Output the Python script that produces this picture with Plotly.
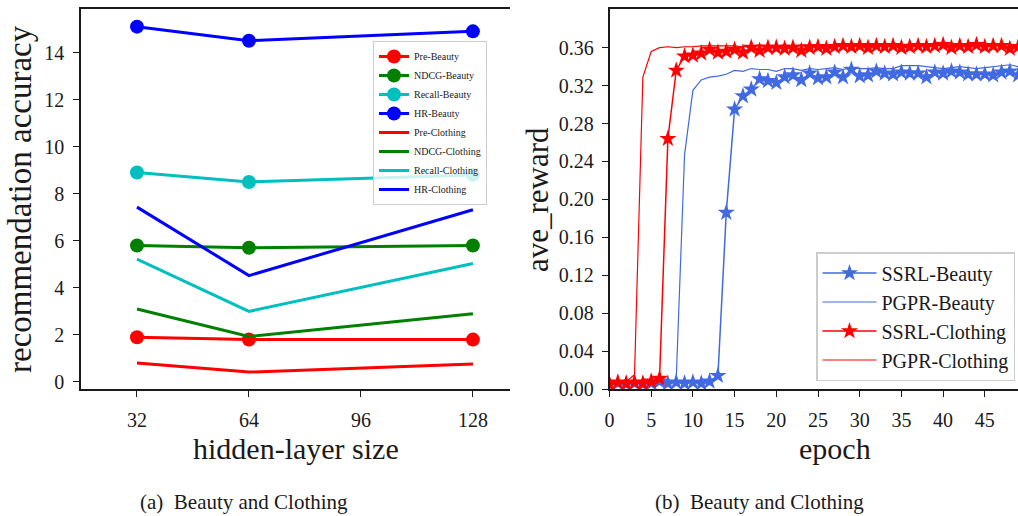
import plotly.graph_objects as go

# ---------------- data: panel (a) ----------------
hidden_sizes = [32, 64, 128]
pre_beauty = [1.9, 1.8, 1.8]
ndcg_beauty = [5.8, 5.7, 5.8]
recall_beauty = [8.9, 8.5, 8.8]
hr_beauty = [15.1, 14.5, 14.9]
pre_clothing = [0.8, 0.42, 0.76]
ndcg_clothing = [3.1, 1.93, 2.9]
recall_clothing = [5.22, 3.0, 5.03]
hr_clothing = [7.43, 4.52, 7.32]
left_xticks = [32, 64, 96, 128]
left_yticks = [0, 2, 4, 6, 8, 10, 12, 14]

# ---------------- data: panel (b) ----------------
epochs = list(range(50))
ssrl_beauty = [0.005, 0.006, 0.005, 0.006, 0.005, 0.006, 0.008, 0.006, 0.007, 0.006,
               0.007, 0.006, 0.008, 0.014, 0.186, 0.295, 0.309, 0.316, 0.327, 0.325,
               0.323, 0.329, 0.331, 0.326, 0.333, 0.328, 0.329, 0.334, 0.329, 0.337,
               0.330, 0.331, 0.335, 0.333, 0.332, 0.334, 0.333, 0.333, 0.329, 0.334,
               0.333, 0.335, 0.334, 0.332, 0.332, 0.332, 0.331, 0.334, 0.335, 0.331]
pgpr_beauty = [0.005, 0.005, 0.006, 0.005, 0.006, 0.006, 0.007, 0.007, 0.010, 0.247,
               0.315, 0.326, 0.329, 0.330, 0.332, 0.336, 0.335, 0.338, 0.337, 0.337,
               0.335, 0.338, 0.338, 0.336, 0.338, 0.337, 0.338, 0.339, 0.337, 0.339,
               0.338, 0.338, 0.339, 0.338, 0.338, 0.341, 0.341, 0.341, 0.340, 0.339,
               0.338, 0.339, 0.340, 0.339, 0.338, 0.339, 0.340, 0.341, 0.342, 0.340]
ssrl_clothing = [0.005, 0.007, 0.006, 0.007, 0.006, 0.008, 0.011, 0.264, 0.336, 0.351,
                 0.352, 0.354, 0.358, 0.355, 0.356, 0.358, 0.355, 0.360, 0.357, 0.360,
                 0.360, 0.359, 0.360, 0.357, 0.360, 0.361, 0.359, 0.361, 0.362, 0.361,
                 0.362, 0.360, 0.362, 0.361, 0.362, 0.360, 0.361, 0.362, 0.361, 0.362,
                 0.363, 0.360, 0.362, 0.361, 0.363, 0.361, 0.362, 0.362, 0.359, 0.361]
pgpr_clothing = [0.005, 0.006, 0.008, 0.015, 0.329, 0.356, 0.360, 0.361, 0.360, 0.361,
                 0.361, 0.362, 0.362, 0.362, 0.362, 0.362, 0.361, 0.362, 0.363, 0.362,
                 0.362, 0.363, 0.362, 0.363, 0.363, 0.362, 0.363, 0.363, 0.362, 0.363,
                 0.364, 0.363, 0.363, 0.362, 0.363, 0.363, 0.364, 0.363, 0.363, 0.364,
                 0.363, 0.363, 0.364, 0.363, 0.363, 0.364, 0.363, 0.364, 0.363, 0.363]
right_xticks = [0, 5, 10, 15, 20, 25, 30, 35, 40, 45]
right_yticks = [0.00, 0.04, 0.08, 0.12, 0.16, 0.20, 0.24, 0.28, 0.32, 0.36]

FONT = "Liberation Serif"
W, H = 1018, 516
RED, GREEN, CYAN, BLUE = "#ff0000", "#008000", "#00bfbf", "#0000ff"
ROYAL = "#4169e1"

fig = go.Figure()

beauty = [("Pre-Beauty", pre_beauty, RED), ("NDCG-Beauty", ndcg_beauty, GREEN),
          ("Recall-Beauty", recall_beauty, CYAN), ("HR-Beauty", hr_beauty, BLUE)]
clothing = [("Pre-Clothing", pre_clothing, RED), ("NDCG-Clothing", ndcg_clothing, GREEN),
            ("Recall-Clothing", recall_clothing, CYAN), ("HR-Clothing", hr_clothing, BLUE)]

for name, vals, col in beauty:
    fig.add_trace(go.Scatter(x=hidden_sizes, y=vals, name=name, mode="lines+markers",
                             line=dict(color=col, width=3),
                             marker=dict(color=col, size=14, symbol="circle"),
                             xaxis="x", yaxis="y", legend="legend"))
for name, vals, col in clothing:
    fig.add_trace(go.Scatter(x=hidden_sizes, y=vals, name=name, mode="lines",
                             line=dict(color=col, width=3),
                             xaxis="x", yaxis="y", legend="legend"))

fig.add_trace(go.Scatter(x=epochs, y=ssrl_beauty, name="SSRL-Beauty", mode="lines+markers",
                         line=dict(color=ROYAL, width=1.5),
                         marker=dict(color=ROYAL, size=13, symbol="star"),
                         xaxis="x2", yaxis="y2", legend="legend2"))
fig.add_trace(go.Scatter(x=epochs, y=pgpr_beauty, name="PGPR-Beauty", mode="lines",
                         line=dict(color=ROYAL, width=1.2),
                         xaxis="x2", yaxis="y2", legend="legend2"))
fig.add_trace(go.Scatter(x=epochs, y=ssrl_clothing, name="SSRL-Clothing", mode="lines+markers",
                         line=dict(color=RED, width=1.5),
                         marker=dict(color=RED, size=13, symbol="star"),
                         xaxis="x2", yaxis="y2", legend="legend2"))
fig.add_trace(go.Scatter(x=epochs, y=pgpr_clothing, name="PGPR-Clothing", mode="lines",
                         line=dict(color=RED, width=1.2),
                         xaxis="x2", yaxis="y2", legend="legend2"))

ydom = [1 - 389 / H, 1 - 9 / H]
axis_common = dict(showline=True, linecolor="#1a1a1a", linewidth=1.6, ticks="outside",
                   ticklen=6, tickwidth=1.4, tickcolor="#1a1a1a", showgrid=False,
                   zeroline=False, automargin=False,
                   tickfont=dict(family=FONT, size=20, color="#1a1a1a"))

fig.update_layout(
    width=W, height=H, margin=dict(l=0, r=0, t=0, b=0, autoexpand=False),
    paper_bgcolor="white", plot_bgcolor="white",
    font=dict(family=FONT, color="#1a1a1a"),
    xaxis=dict(domain=[81 / W, 510 / W], range=[16, 138.6], tickvals=left_xticks,
               mirror=True, anchor="y", ticklabelstandoff=6, **axis_common),
    yaxis=dict(domain=ydom, range=[-0.3, 15.85], tickvals=left_yticks,
               anchor="x", ticklabelstandoff=5, **axis_common),
    xaxis2=dict(domain=[609.5 / W, 1.0], range=[0, 48.98], tickvals=right_xticks,
                mirror=True, anchor="y2", ticklabelstandoff=6, **axis_common),
    yaxis2=dict(domain=ydom, range=[0, 0.4008], tickvals=right_yticks, tickformat=".2f",
                anchor="x2", ticklabelstandoff=4, **axis_common),
    legend=dict(x=373 / W, y=1 - 41 / H, xanchor="left", yanchor="top",
                bgcolor="rgba(255,255,255,0.8)", bordercolor="#cccccc", borderwidth=1,
                font=dict(family=FONT, size=10, color="#1a1a1a"), itemwidth=30,
                tracegroupgap=0),
    legend2=dict(x=816 / W, y=1 - 252 / H, xanchor="left", yanchor="top",
                 bgcolor="rgba(255,255,255,0.8)", bordercolor="#cccccc", borderwidth=1.5,
                 font=dict(family=FONT, size=20, color="#1a1a1a"), itemwidth=54,
                 tracegroupgap=0),
    showlegend=True,
)

annotations = [
    dict(text="hidden-layer size", x=295.5 / W, y=1 - 448 / H, font=dict(size=30)),
    dict(text="recommendation accuracy", x=20 / W, y=1 - 199 / H, textangle=-90,
         font=dict(size=33)),
    dict(text="epoch", x=835 / W, y=1 - 448 / H, font=dict(size=30)),
    dict(text="ave_reward", x=537 / W, y=1 - 200 / H, textangle=-90, font=dict(size=31)),
    dict(text="(a)\u00a0 Beauty and Clothing", x=243.5 / W, y=1 - 502 / H, font=dict(size=21)),
    dict(text="(b)\u00a0 Beauty and Clothing", x=759 / W, y=1 - 502 / H, font=dict(size=21)),
]
for a in annotations:
    a.update(xref="paper", yref="paper", showarrow=False, xanchor="center", yanchor="middle")
    a["font"].update(family=FONT, color="#1a1a1a")
fig.update_layout(annotations=annotations)

fig.write_html("out.html", config={"displayModeBar": False},
               post_script="document.body.style.margin='0';document.body.style.padding='0';")
